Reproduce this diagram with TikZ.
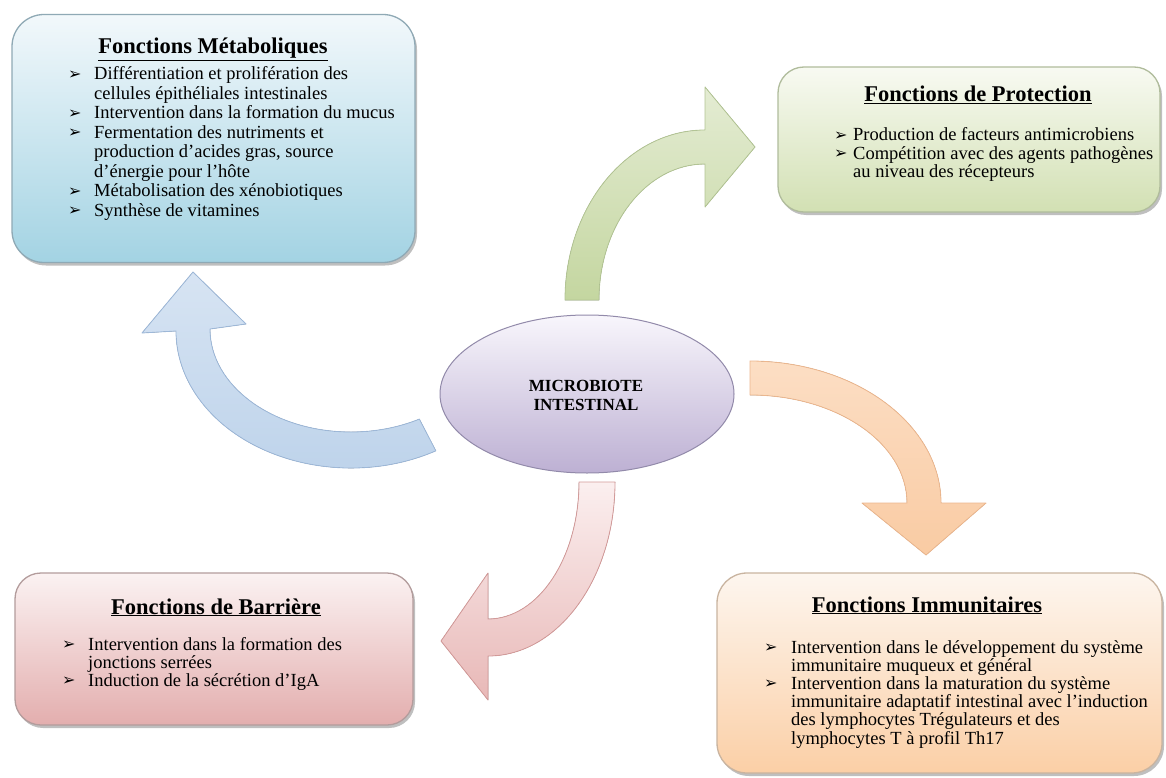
\documentclass[tikz,border=0pt]{standalone}
\usepackage{fontspec}
\setmainfont{Liberation Serif}
\newfontfamily\dejavu{DejaVu Sans}
\usetikzlibrary{calc,shadows,shapes.geometric}
\newcommand\bul{\raisebox{0.5pt}{\dejavu\fontsize{16}{16}\selectfont ➢}}
\definecolor{metT}{HTML}{F2F8FB}\definecolor{metB}{HTML}{A3D3E3}\definecolor{metD}{HTML}{8FA9B5}
\definecolor{proT}{HTML}{F8FAF2}\definecolor{proB}{HTML}{D2E0B3}\definecolor{proD}{HTML}{B0BC9C}
\definecolor{barT}{HTML}{FBF2F2}\definecolor{barB}{HTML}{E3AEAE}\definecolor{barD}{HTML}{B39C9C}
\definecolor{immT}{HTML}{FDF6EF}\definecolor{immB}{HTML}{FBCFA6}\definecolor{immD}{HTML}{C9B4A0}
\definecolor{ellT}{HTML}{F8F6FC}\definecolor{ellB}{HTML}{BDB0D3}\definecolor{ellD}{HTML}{928AAA}
\definecolor{abT}{HTML}{D7E4F3}\definecolor{abB}{HTML}{BCD2EA}\definecolor{abD}{HTML}{9DB8D9}
\definecolor{agT}{HTML}{E4ECD3}\definecolor{agB}{HTML}{C4D6A0}\definecolor{agD}{HTML}{B3C594}
\definecolor{aoT}{HTML}{FCDEC4}\definecolor{aoB}{HTML}{F9CBA3}\definecolor{aoD}{HTML}{EDB78E}
\definecolor{apT}{HTML}{FBEFEF}\definecolor{apB}{HTML}{E8B8B7}\definecolor{apD}{HTML}{D49A99}
\tikzset{
  fbox/.style={draw=#1, line width=1.3pt, inner sep=0pt,
    drop shadow={shadow xshift=2pt, shadow yshift=-3pt, opacity=0.25, fill=black}},
  ttl/.style={anchor=base, inner sep=0pt, font=\fontsize{22.5}{26}\selectfont\bfseries},
  lst/.style={anchor=base west, inner sep=0pt, font=\fontsize{18.5}{#1}\selectfont},
  carrow/.style={draw=#1, line width=0.8pt, line join=round},
}
\begin{document}
\begin{tikzpicture}[x=1pt,y=-1pt]
\useasboundingbox (0,0) rectangle (1166,778);
\fill[white] (0,0) rectangle (1166,778);

% boxes
\node[fbox=metD, rounded corners=32pt, top color=metT, bottom color=metB,
  minimum width=403pt, minimum height=248pt] (met) at (213.5,138.5) {};
\node[fbox=proD, rounded corners=26pt, top color=proT, bottom color=proB,
  minimum width=382pt, minimum height=145pt] (pro) at (969,139.5) {};
\node[fbox=barD, rounded corners=26pt, top color=barT, bottom color=barB,
  minimum width=398pt, minimum height=152pt] (bar) at (214,649) {};
\node[fbox=immD, rounded corners=30pt, top color=immT, bottom color=immB,
  minimum width=445pt, minimum height=200pt] (imm) at (939.5,673) {};

% curved arrows
\coordinate (cb) at (351,331);
\coordinate (cg) at (705,300);
\coordinate (co) at (750,503);
\coordinate (cp) at (488,482);
\filldraw[carrow=abD, top color=abT, bottom color=abB]
  ($(cb)+(61:175 and 137)$) arc[start angle=61, end angle=180, x radius=175, y radius=137]
  -- (142,333) -- (193,272) -- (246,324) -- (210,329)
  arc[start angle=180, end angle=61, x radius=141, y radius=103] -- cycle;
\filldraw[carrow=agD, top color=agT, bottom color=agB]
  ($(cg)+(180:140 and 170)$) arc[start angle=180, end angle=270, x radius=140, y radius=170]
  -- (705,87) -- (755,147) -- (705,207) -- (705,164)
  arc[start angle=270, end angle=180, x radius=106, y radius=136] -- cycle;
\filldraw[carrow=aoD, top color=aoT, bottom color=aoB]
  ($(co)+(270:191 and 142)$) arc[start angle=270, end angle=360, x radius=191, y radius=142]
  -- (986,503) -- (926,555) -- (862,503) -- (907,503)
  arc[start angle=360, end angle=270, x radius=157, y radius=108] -- cycle;
\filldraw[carrow=apD, top color=apT, bottom color=apB]
  ($(cp)+(0:127 and 174)$) arc[start angle=0, end angle=90, x radius=127, y radius=174]
  -- (488,700) -- (441,641) -- (488,573) -- (488,619)
  arc[start angle=90, end angle=0, x radius=91, y radius=137] -- cycle;

% centre
\node[ellipse, draw=ellD, line width=1pt, top color=ellT, bottom color=ellB,
  minimum width=294pt, minimum height=158pt, inner sep=0pt] (mic) at (587,394) {};
\node[align=center, inner sep=0pt, font=\fontsize{17}{19}\selectfont\bfseries] (mict) at (586,395)
  {MICROBIOTE\\INTESTINAL};

% texts
\node[ttl] (metT) at (213,54) {\underline{Fonctions Métaboliques}};
\node[lst=19.5] (metL) at (68,80) {\begin{tabular}[t]{@{}p{26pt}@{}l@{}}
\bul & Différentiation et prolifération des\\
 & cellules épithéliales intestinales\\
\bul & Intervention dans la formation du mucus\\
\bul & Fermentation des nutriments et\\
 & production d’acides gras, source\\
 & d’énergie pour l’hôte\\
\bul & Métabolisation des xénobiotiques\\
\bul & Synthèse de vitamines
\end{tabular}};

\node[ttl] (proT) at (978,102) {\underline{Fonctions de Protection}};
\node[lst=17.8] (proL) at (834,141) {\begin{tabular}[t]{@{}p{19pt}@{}l@{}}
\bul & Production de facteurs antimicrobiens\\
\bul & Compétition avec des agents pathogènes\\
 & au niveau des récepteurs
\end{tabular}};

\node[ttl] (barT) at (216,614) {\underline{Fonctions de Barrière}};
\node[lst=17.8] (barL) at (62,650) {\begin{tabular}[t]{@{}p{26pt}@{}l@{}}
\bul & Intervention dans la formation des\\
 & jonctions serrées\\
\bul & Induction de la sécrétion d’IgA
\end{tabular}};

\node[ttl] (immT) at (927,612) {\underline{Fonctions Immunitaires}};
\node[lst=17.6] (immL) at (764,653) {\begin{tabular}[t]{@{}p{27pt}@{}l@{}}
\bul & Intervention dans le développement du système\\
 & immunitaire muqueux et général\\
\bul & Intervention dans la maturation du système\\
 & immunitaire adaptatif intestinal avec l’induction\\
 & des lymphocytes Trégulateurs et des\\
 & lymphocytes T à profil Th17
\end{tabular}};
\end{tikzpicture}
\end{document}
